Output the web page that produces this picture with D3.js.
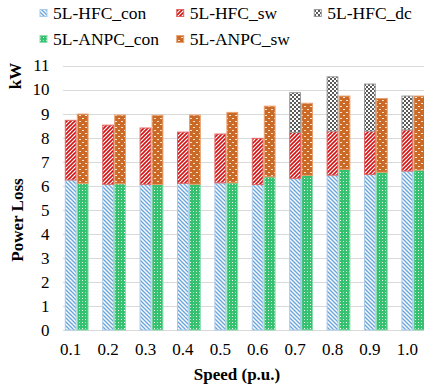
<!DOCTYPE html>
<html>
<head>
<meta charset="utf-8">
<script src="https://cdn.jsdelivr.net/npm/d3@7"></script>
<style>
  html, body { margin: 0; padding: 0; background: #fff; }
  text { font-family: 'Liberation Serif', 'DejaVu Serif', serif; }
</style>
</head>
<body>
<div id="chart"></div>
<script>
// Speed categories (p.u.)
const speeds = ['0.1', '0.2', '0.3', '0.4', '0.5', '0.6', '0.7', '0.8', '0.9', '1.0'];

// Loss components in kW
const hfcCon = [6.24, 6.06, 6.06, 6.10, 6.12, 6.05, 6.31, 6.44, 6.47, 6.61];
const hfcSw = [2.48, 2.46, 2.34, 2.13, 2.03, 1.92, 1.91, 1.83, 1.80, 1.71];
const hfcDc = [0, 0, 0, 0, 0, 0, 1.65, 2.26, 1.96, 1.41];
const anpcCon = [6.10, 6.08, 6.05, 6.06, 6.12, 6.37, 6.43, 6.68, 6.56, 6.65];
const anpcSw = [2.88, 2.86, 2.88, 2.88, 2.93, 2.94, 3.00, 3.05, 3.07, 3.08];

const yTicks = [0, 1, 2, 3, 4, 5, 6, 7, 8, 9, 10, 11];

const width = 424;
const height = 390;
const FONT = 'Liberation Serif';

const svg = d3.select('#chart')
  .append('svg')
  .attr('width', width)
  .attr('height', height)
  .attr('font-family', FONT);

const defs = svg.append('defs');

// Pattern fills that mimic the Excel pattern swatches
function stripes(id, color, dir, sw) {
  const p = defs.append('pattern')
    .attr('id', id)
    .attr('patternUnits', 'userSpaceOnUse')
    .attr('width', 4)
    .attr('height', 4);
  p.append('rect').attr('width', 4).attr('height', 4).attr('fill', '#fff');
  const d = dir === 'down'
    ? 'M-1,-1L5,5M-1,3L1,5M3,-1L5,1'
    : 'M-1,5L5,-1M-1,1L1,-1M3,5L5,3';
  p.append('path').attr('d', d).attr('stroke', color).attr('stroke-width', sw);
}
stripes('pat-hfc-con', '#6aa5db', 'down', 1.4);
stripes('pat-hfc-sw', '#d41010', 'up', 1.6);

const checker = defs.append('pattern')
  .attr('id', 'pat-hfc-dc')
  .attr('patternUnits', 'userSpaceOnUse')
  .attr('width', 4).attr('height', 4);
checker.append('rect').attr('width', 4).attr('height', 4).attr('fill', '#fff');
checker.append('rect').attr('width', 2).attr('height', 2).attr('fill', '#5a5a5a');
checker.append('rect').attr('x', 2).attr('y', 2).attr('width', 2).attr('height', 2).attr('fill', '#5a5a5a');

const dots = defs.append('pattern')
  .attr('id', 'pat-anpc-con')
  .attr('patternUnits', 'userSpaceOnUse')
  .attr('width', 6).attr('height', 6);
dots.append('rect').attr('width', 6).attr('height', 6).attr('fill', '#35c170');
dots.append('rect').attr('x', 1).attr('y', 1).attr('width', 1).attr('height', 1).attr('fill', '#fff');
dots.append('rect').attr('x', 4).attr('y', 4).attr('width', 1).attr('height', 1).attr('fill', '#fff');
dots.append('rect').attr('x', 4).attr('y', 1).attr('width', 1).attr('height', 1).attr('fill', '#a5e5bf');
dots.append('rect').attr('x', 1).attr('y', 4).attr('width', 1).attr('height', 1).attr('fill', '#a5e5bf');

const dashes = defs.append('pattern')
  .attr('id', 'pat-anpc-sw')
  .attr('patternUnits', 'userSpaceOnUse')
  .attr('width', 6).attr('height', 6);
dashes.append('rect').attr('width', 6).attr('height', 6).attr('fill', '#cb6a26');
dashes.append('rect').attr('x', 1).attr('y', 1).attr('width', 2).attr('height', 1).attr('fill', '#fbe3d0');
dashes.append('rect').attr('x', 4).attr('y', 4).attr('width', 2).attr('height', 1).attr('fill', '#fbe3d0');

const series = [
  { name: '5L-HFC_con', values: hfcCon, fill: 'url(#pat-hfc-con)', edge: '#a9cbea', group: 0, level: 0 },
  { name: '5L-HFC_sw', values: hfcSw, fill: 'url(#pat-hfc-sw)', edge: '#e06666', group: 0, level: 1 },
  { name: '5L-HFC_dc', values: hfcDc, fill: 'url(#pat-hfc-dc)', edge: '#9a9a9a', group: 0, level: 2 },
  { name: '5L-ANPC_con', values: anpcCon, fill: 'url(#pat-anpc-con)', edge: '#8ddcae', group: 1, level: 0 },
  { name: '5L-ANPC_sw', values: anpcSw, fill: 'url(#pat-anpc-sw)', edge: '#e8a070', group: 1, level: 1 }
];

// Scales
const x = d3.scalePoint().domain(speeds).range([70.7, 407.3]);
const y = d3.scaleLinear().domain([0, 11]).range([330, 65.5]);

const barW = 10.8;
const groupOffset = [-5.4, 6.6];

// Gridlines
svg.append('g')
  .selectAll('line')
  .data(yTicks)
  .enter()
  .append('line')
  .attr('x1', 63)
  .attr('x2', width)
  .attr('y1', d => Math.round(y(d)) + 0.5)
  .attr('y2', d => Math.round(y(d)) + 0.5)
  .attr('stroke', '#d9d9d9')
  .attr('stroke-width', 1);

// Stacked bars
const bars = svg.append('g');
series.forEach(s => {
  const below = series.filter(o => o.group === s.group && o.level < s.level);
  speeds.forEach((sp, i) => {
    const v = s.values[i];
    if (!v) return;
    const base = d3.sum(below, o => o.values[i]);
    bars.append('rect')
      .attr('x', x(sp) + groupOffset[s.group])
      .attr('y', y(base + v))
      .attr('width', barW)
      .attr('height', y(base) - y(base + v))
      .attr('fill', s.fill)
      .attr('stroke', s.edge)
      .attr('stroke-width', 1);
  });
});

// Y axis tick labels
svg.append('g')
  .selectAll('text')
  .data(yTicks)
  .enter()
  .append('text')
  .attr('x', 49.5)
  .attr('y', d => y(d))
  .attr('dy', '0.35em')
  .attr('text-anchor', 'end')
  .attr('font-family', FONT)
  .attr('font-size', 17)
  .attr('fill', '#000')
  .text(d => d);

// X axis tick labels
svg.append('g')
  .selectAll('text')
  .data(speeds)
  .enter()
  .append('text')
  .attr('x', d => x(d))
  .attr('y', 355)
  .attr('text-anchor', 'middle')
  .attr('font-family', FONT)
  .attr('font-size', 17)
  .attr('fill', '#000')
  .text(d => d);

// Axis titles
svg.append('text')
  .attr('x', 237)
  .attr('y', 380)
  .attr('text-anchor', 'middle')
  .attr('font-family', FONT)
  .attr('font-size', 17)
  .attr('font-weight', 'bold')
  .text('Speed (p.u.)');

svg.append('text')
  .attr('transform', 'translate(23,220) rotate(-90)')
  .attr('text-anchor', 'middle')
  .attr('font-family', FONT)
  .attr('font-size', 17)
  .attr('font-weight', 'bold')
  .text('Power Loss');

svg.append('text')
  .attr('transform', 'translate(21,76) rotate(-90)')
  .attr('text-anchor', 'middle')
  .attr('font-family', FONT)
  .attr('font-size', 17)
  .attr('font-weight', 'bold')
  .text('kW');

// Legend
const legendPos = [[40, 13], [176.7, 13], [314.3, 13], [40, 39], [176.7, 39]];
const legend = svg.append('g');
series.forEach((s, i) => {
  const [lx, ly] = legendPos[i];
  legend.append('rect')
    .attr('x', lx)
    .attr('y', ly - 3.5)
    .attr('width', 7)
    .attr('height', 7)
    .attr('fill', s.fill)
    .attr('stroke', s.edge)
    .attr('stroke-width', 1);
  legend.append('text')
    .attr('x', lx + 13)
    .attr('y', ly)
    .attr('dy', '0.35em')
    .attr('font-family', FONT)
    .attr('font-size', 17.5)
    .text(s.name);
});
</script>
</body>
</html>
